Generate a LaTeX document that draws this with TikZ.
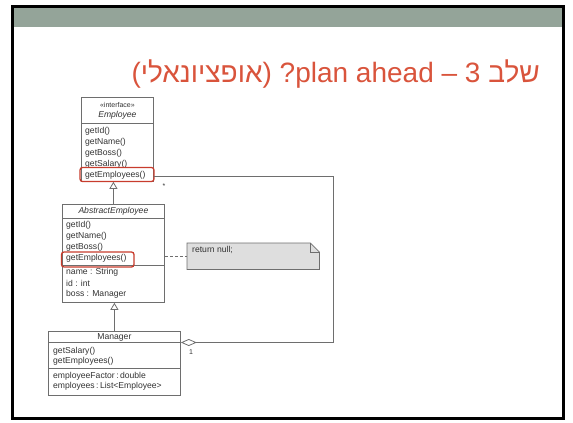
\documentclass[tikz,border=0pt]{standalone}
\usepackage{fontspec}
\setmainfont{Liberation Sans}
\newfontfamily\hebfont[Script=Hebrew]{Liberation Sans}
\TeXXeTstate=1
\usetikzlibrary{arrows.meta}
\definecolor{band}{RGB}{148,164,153}
\definecolor{titlered}{RGB}{217,84,60}
\definecolor{umlline}{RGB}{110,110,110}
\definecolor{umltext}{RGB}{50,50,50}
\definecolor{hilite}{RGB}{200,60,45}
\definecolor{notegray}{RGB}{222,222,222}
\tikzset{
  classbox/.style={draw=umlline, line width=0.8pt, anchor=north west, inner sep=0pt},
  item/.style={anchor=west, inner sep=0pt, text=umltext, font=\fontsize{8.6}{10}\selectfont},
  cname/.style={inner sep=0pt, text=umltext, font=\fontsize{8.6}{10}\selectfont},
  sep/.style={draw=umlline, line width=0.8pt},
  inherit/.style={draw=umlline, line width=0.8pt, -{Triangle[open, length=7pt, width=8pt]}},
  aggr/.style={draw=umlline, line width=0.8pt, -{Diamond[open, length=16pt, width=7pt]}},
  hl/.style={draw=hilite, line width=1.3pt, rounded corners=2.5pt},
  mult/.style={inner sep=0pt, text=umltext, font=\fontsize{7}{8}\selectfont},
  title/.style={inner sep=0pt, text=titlered, font=\fontsize{28}{32}\selectfont}
}

\begin{document}
\begin{tikzpicture}[x=1pt,y=-1pt]
	\useasboundingbox (0,0) rectangle (573,423);
	% slide frame and title
	\fill [band] (13,7) rectangle (562,27);
	\draw [line width=3pt] (12.5,6.5) rectangle (563.5,418.5);
	\node [title, anchor=base east] (title) at (540,82) {({\hebfont\beginR אופציונאלי\endR}) ?plan ahead – 3 {\hebfont\beginR שלב\endR}};

	% Employee
	\node [classbox, minimum width=72pt, minimum height=84pt] (emp) at (81,97) {};
	\node [cname, font=\fontsize{7}{8}\selectfont] (empStereo) at (emp.north |- 0,105) {«interface»};
	\node [cname, font=\fontsize{8.6}{10}\selectfont\itshape] (empName) at (emp.north |- 0,115.5) {Employee};
	\draw [sep] (emp.west |- 0,123) -- (emp.east |- 0,123);
	\foreach \m [count=\i] in {getId(), getName(), getBoss(), getSalary(), getEmployees()}
		\node [item] (empM\i) at (85,120.5+11*\i) {\m};
	\draw [hl] (80,167.5) rectangle (154,181.5);

	% AbstractEmployee
	\node [classbox, minimum width=102pt, minimum height=98pt] (abs) at (62,204) {};
	\node [cname, font=\fontsize{8.6}{10}\selectfont\itshape] (absName) at (abs.north |- 0,211) {AbstractEmployee};
	\draw [sep] (abs.west |- 0,218) -- (abs.east |- 0,218);
	\draw [sep] (abs.west |- 0,265) -- (abs.east |- 0,265);
	\foreach \m [count=\i] in {getId(), getName(), getBoss(), getEmployees()}
		\node [item] (absM\i) at (66,214+11*\i) {\m};
	\foreach \a [count=\i] in {name : String, id : int, boss : Manager}
		\node [item] (absA\i) at (66,261+11*\i) {\a};
	\draw [hl] (61.5,252) rectangle (134,267);

	% Manager
	\node [classbox, minimum width=132pt, minimum height=64pt] (mgr) at (48,331) {};
	\node [cname] (mgrName) at (mgr.north |- 0,337) {Manager};
	\draw [sep] (mgr.west |- 0,342.5) -- (mgr.east |- 0,342.5);
	\draw [sep] (mgr.west |- 0,368.5) -- (mgr.east |- 0,368.5);
	\foreach \m [count=\i] in {getSalary(), getEmployees()}
		\node [item] (mgrM\i) at (53,341.5+10*\i) {\m};
	\foreach \a [count=\i] in {employeeFactor\,:\,double, employees\,:\,List<Employee>}
		\node [item] (mgrA\i) at (53,365.5+10.5*\i) {\a};

	% note
	\node [minimum width=132pt, minimum height=26pt, anchor=north west, inner sep=0pt, fill=notegray] (note) at (187,243) {};
	\fill [white] ([xshift=-9pt]note.north east) -- (note.north east) -- ([yshift=-9pt]note.north east) -- cycle;
	\draw [umlline, line width=0.8pt] (note.south west) -- (note.north west) -- ([xshift=-9pt]note.north east) -- ([yshift=-9pt]note.north east) -- (note.south east) -- cycle;
	\draw [umlline, line width=0.8pt] ([xshift=-9pt]note.north east) -- ([xshift=-9pt,yshift=-9pt]note.north east) -- ([yshift=-9pt]note.north east);
	\node [item] (noteText) at (192,250) {return null;};
	\draw [umlline, line width=0.8pt, dash pattern=on 3pt off 2pt] (abs.east |- note.west) -- (note.west);

	% relations
	\draw [inherit] (abs.north) -- (abs.north |- emp.south);
	\draw [inherit] (mgr.north) -- (mgr.north |- abs.south);
	\coordinate (aggTop) at (333,176);
	\coordinate (aggBot) at (333,342.5);
	\draw [aggr] (emp.east |- aggTop) -- (aggTop) -- (aggBot) -- (mgr.east |- aggBot);
	\node [mult] (multMany) at (164,186) {*};
	\node [mult] (multOne) at (191,352) {1};
\end{tikzpicture}
\end{document}
